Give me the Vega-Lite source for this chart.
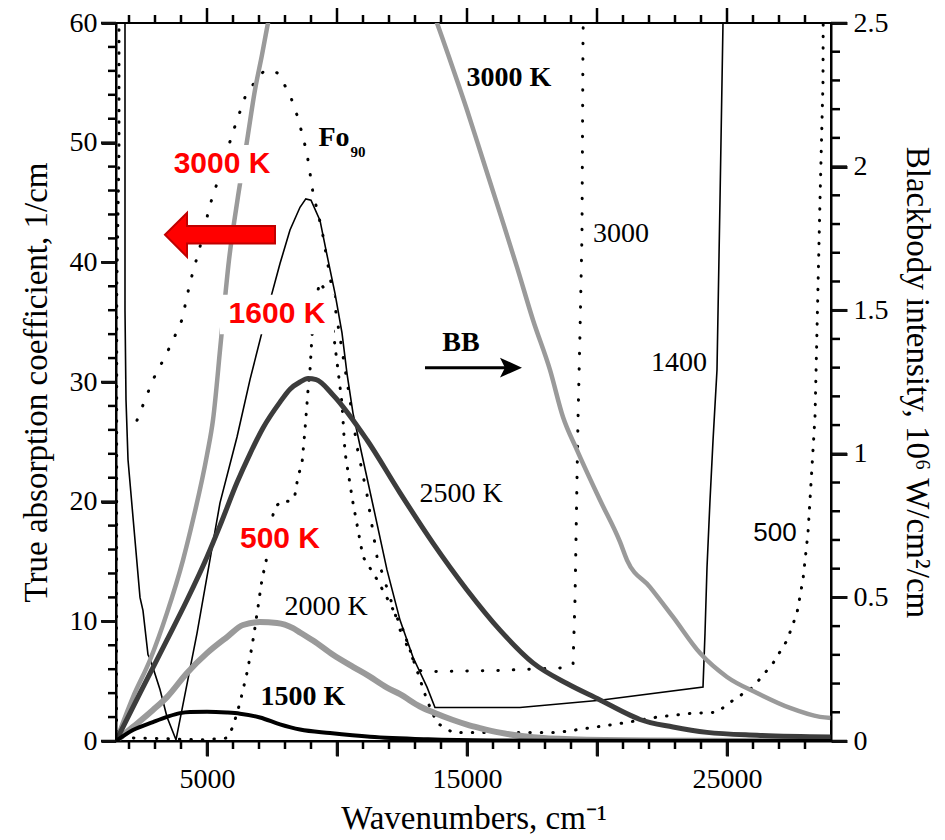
{
 "$schema": "https://vega.github.io/schema/vega-lite/v6.json",
 "width": 715, "height": 718,
 "autosize": {"type": "none"},
 "padding": {"left": 116, "top": 23, "right": 114, "bottom": 99},
 "background": "white",
 "config": {
  "view": {"stroke": "black", "strokeWidth": 2},
  "axis": {"ticks": true, "zindex": 1, "domainColor": "black", "domainWidth": 2, "tickColor": "#111111", "tickWidth": 3, "tickOpacity": 1, "labelFont": "Liberation Serif", "labelFontSize": 28, "labelColor": "black", "titleFont": "Liberation Serif", "titleFontSize": 33, "titleFontWeight": "normal", "titleColor": "black", "grid": false, "labelOverlap": false, "labelFlush": false}
 },
 "datasets": {
  "a1400": [{"i":0,"wn":1846,"k":70},{"i":1,"wn":1846,"k":36},{"i":2,"wn":1885,"k":28.5},{"i":3,"wn":1962,"k":23.5},{"i":4,"wn":2154,"k":18.7},{"i":5,"wn":2423,"k":12.0},{"i":6,"wn":2538,"k":10.9},{"i":7,"wn":2731,"k":7.2},{"i":8,"wn":2808,"k":6.9},{"i":9,"wn":3192,"k":4.3},{"i":10,"wn":3462,"k":2.0},{"i":11,"wn":3808,"k":0.1},{"i":12,"wn":4615,"k":9.0},{"i":13,"wn":5500,"k":19.9},{"i":14,"wn":6154,"k":25.4},{"i":15,"wn":6654,"k":30.2},{"i":16,"wn":7423,"k":36.8},{"i":17,"wn":7808,"k":39.9},{"i":18,"wn":8192,"k":42.7},{"i":19,"wn":8577,"k":44.6},{"i":20,"wn":8800,"k":45.3},{"i":21,"wn":9000,"k":45.2},{"i":22,"wn":9346,"k":43.5},{"i":23,"wn":9654,"k":40.2},{"i":24,"wn":9923,"k":37.4},{"i":25,"wn":10192,"k":34.1},{"i":26,"wn":10385,"k":30.7},{"i":27,"wn":10615,"k":27.4},{"i":28,"wn":10962,"k":23.9},{"i":29,"wn":11385,"k":19.7},{"i":30,"wn":11923,"k":14.3},{"i":31,"wn":12423,"k":10.1},{"i":32,"wn":12923,"k":7.0},{"i":33,"wn":13462,"k":4.5},{"i":34,"wn":13769,"k":2.8},{"i":35,"wn":17038,"k":2.8},{"i":36,"wn":20115,"k":3.4},{"i":37,"wn":24077,"k":4.5},{"i":38,"wn":24154,"k":9.0},{"i":39,"wn":24231,"k":14.5},{"i":40,"wn":24346,"k":20.1},{"i":41,"wn":24462,"k":25.1},{"i":42,"wn":24615,"k":31.0},{"i":43,"wn":24731,"k":45.2},{"i":44,"wn":24846,"k":60},{"i":45,"wn":24885,"k":65}],
  "a3000": [{"i":0,"wn":2308,"k":26.8},{"i":1,"wn":2923,"k":30.2},{"i":2,"wn":3308,"k":31.8},{"i":3,"wn":3654,"k":33.3},{"i":4,"wn":4038,"k":35.2},{"i":5,"wn":4346,"k":38.3},{"i":6,"wn":4731,"k":41.3},{"i":7,"wn":5115,"k":44.8},{"i":8,"wn":5385,"k":46.6},{"i":9,"wn":6000,"k":50.9},{"i":10,"wn":6462,"k":53.8},{"i":11,"wn":6846,"k":55.1},{"i":12,"wn":7154,"k":55.9},{"i":13,"wn":7423,"k":56.1},{"i":14,"wn":7731,"k":55.8},{"i":15,"wn":8192,"k":54.0},{"i":16,"wn":8462,"k":52.3},{"i":17,"wn":8654,"k":50.8},{"i":18,"wn":8846,"k":49.1},{"i":19,"wn":9077,"k":45.8},{"i":20,"wn":9423,"k":42.7},{"i":21,"wn":9731,"k":38.8},{"i":22,"wn":9923,"k":36.3},{"i":23,"wn":10192,"k":32.7},{"i":24,"wn":10500,"k":28.5},{"i":25,"wn":10769,"k":24.6},{"i":26,"wn":11154,"k":20.6},{"i":27,"wn":11538,"k":15.4},{"i":28,"wn":12038,"k":12.0},{"i":29,"wn":12423,"k":9.3},{"i":30,"wn":12808,"k":7.4},{"i":31,"wn":13115,"k":5.9},{"i":32,"wn":13692,"k":5.8},{"i":33,"wn":16269,"k":5.9},{"i":34,"wn":18577,"k":6.1},{"i":35,"wn":19077,"k":6.3},{"i":36,"wn":19154,"k":11.8},{"i":37,"wn":19269,"k":26.8},{"i":38,"wn":19346,"k":34.1},{"i":39,"wn":19423,"k":42.4},{"i":40,"wn":19462,"k":58.6},{"i":41,"wn":19500,"k":65}],
  "a500": [{"i":0,"wn":1615,"k":70},{"i":1,"wn":1615,"k":49.2},{"i":2,"wn":1530,"k":37.7},{"i":3,"wn":1520,"k":0.3},{"i":4,"wn":4846,"k":0.1},{"i":5,"wn":5769,"k":0.25},{"i":6,"wn":6000,"k":1.2},{"i":7,"wn":6269,"k":3.2},{"i":8,"wn":6538,"k":5.7},{"i":9,"wn":6731,"k":7.9},{"i":10,"wn":6846,"k":9.5},{"i":11,"wn":6962,"k":11.2},{"i":12,"wn":7115,"k":13.5},{"i":13,"wn":7308,"k":15.4},{"i":14,"wn":7538,"k":18.9},{"i":15,"wn":7692,"k":19.7},{"i":16,"wn":7923,"k":20.1},{"i":17,"wn":8192,"k":20.0},{"i":18,"wn":8385,"k":20.6},{"i":19,"wn":8500,"k":22.1},{"i":20,"wn":8654,"k":23.2},{"i":21,"wn":8769,"k":26.0},{"i":22,"wn":8885,"k":29.3},{"i":23,"wn":8962,"k":31.0},{"i":24,"wn":9038,"k":33.8},{"i":25,"wn":9154,"k":36.8},{"i":26,"wn":9346,"k":38.3},{"i":27,"wn":9538,"k":37.7},{"i":28,"wn":9731,"k":36.4},{"i":29,"wn":10038,"k":31.0},{"i":30,"wn":10192,"k":28.2},{"i":31,"wn":10308,"k":24.1},{"i":32,"wn":10615,"k":19.9},{"i":33,"wn":11000,"k":15.4},{"i":34,"wn":11538,"k":13.5},{"i":35,"wn":12038,"k":11.5},{"i":36,"wn":12538,"k":9.3},{"i":37,"wn":13077,"k":5.9},{"i":38,"wn":13462,"k":3.4},{"i":39,"wn":13846,"k":1.5},{"i":40,"wn":14462,"k":0.7},{"i":41,"wn":18462,"k":0.7},{"i":42,"wn":19731,"k":1.1},{"i":43,"wn":21000,"k":1.5},{"i":44,"wn":22308,"k":2.0},{"i":45,"wn":23577,"k":2.3},{"i":46,"wn":24615,"k":2.4},{"i":47,"wn":25231,"k":3.4},{"i":48,"wn":26000,"k":4.5},{"i":49,"wn":26769,"k":6.5},{"i":50,"wn":27308,"k":8.4},{"i":51,"wn":27692,"k":10.7},{"i":52,"wn":27923,"k":13.5},{"i":53,"wn":28115,"k":17.4},{"i":54,"wn":28269,"k":22.9},{"i":55,"wn":28385,"k":27.1},{"i":56,"wn":28577,"k":45.2},{"i":57,"wn":28692,"k":55.0},{"i":58,"wn":28700,"k":60},{"i":59,"wn":28730,"k":65}],
  "bb": [
   {"T":"1500","i":0,"wn":1500,"r":0},{"T":"1500","i":1,"wn":2154,"r":0.038},{"T":"1500","i":2,"wn":2923,"r":0.066},{"T":"1500","i":3,"wn":3462,"r":0.084},{"T":"1500","i":4,"wn":3962,"r":0.097},{"T":"1500","i":5,"wn":4346,"r":0.101},{"T":"1500","i":6,"wn":5000,"r":0.102},{"T":"1500","i":7,"wn":5769,"r":0.099},{"T":"1500","i":8,"wn":6269,"r":0.095},{"T":"1500","i":9,"wn":7038,"r":0.082},{"T":"1500","i":10,"wn":7808,"r":0.058},{"T":"1500","i":11,"wn":8577,"r":0.040},{"T":"1500","i":12,"wn":9731,"r":0.028},{"T":"1500","i":13,"wn":11269,"r":0.015},{"T":"1500","i":14,"wn":13500,"r":0.006},{"T":"1500","i":15,"wn":16000,"r":0.002},{"T":"1500","i":16,"wn":20000,"r":0.0005},{"T":"1500","i":17,"wn":29000,"r":0},
   {"T":"2000","i":0,"wn":1500,"r":0},{"T":"2000","i":1,"wn":2154,"r":0.049},{"T":"2000","i":2,"wn":2923,"r":0.108},{"T":"2000","i":3,"wn":3462,"r":0.153},{"T":"2000","i":4,"wn":4231,"r":0.237},{"T":"2000","i":5,"wn":5000,"r":0.306},{"T":"2000","i":6,"wn":5769,"r":0.362},{"T":"2000","i":7,"wn":6385,"r":0.404},{"T":"2000","i":8,"wn":7038,"r":0.414},{"T":"2000","i":9,"wn":7692,"r":0.411},{"T":"2000","i":10,"wn":8308,"r":0.393},{"T":"2000","i":11,"wn":8577,"r":0.378},{"T":"2000","i":12,"wn":9077,"r":0.350},{"T":"2000","i":13,"wn":9846,"r":0.300},{"T":"2000","i":14,"wn":10615,"r":0.258},{"T":"2000","i":15,"wn":11154,"r":0.230},{"T":"2000","i":16,"wn":11923,"r":0.186},{"T":"2000","i":17,"wn":12423,"r":0.163},{"T":"2000","i":18,"wn":13192,"r":0.120},{"T":"2000","i":19,"wn":13692,"r":0.100},{"T":"2000","i":20,"wn":14462,"r":0.073},{"T":"2000","i":21,"wn":15000,"r":0.057},{"T":"2000","i":22,"wn":15500,"r":0.045},{"T":"2000","i":23,"wn":16269,"r":0.029},{"T":"2000","i":24,"wn":17538,"r":0.013},{"T":"2000","i":25,"wn":19000,"r":0.006},{"T":"2000","i":26,"wn":22000,"r":0.002},{"T":"2000","i":27,"wn":29000,"r":0},
   {"T":"2500","i":0,"wn":1500,"r":0},{"T":"2500","i":1,"wn":2423,"r":0.167},{"T":"2500","i":2,"wn":3462,"r":0.352},{"T":"2500","i":3,"wn":4231,"r":0.491},{"T":"2500","i":4,"wn":5000,"r":0.641},{"T":"2500","i":5,"wn":5500,"r":0.75},{"T":"2500","i":6,"wn":6154,"r":0.90},{"T":"2500","i":7,"wn":6654,"r":1.0},{"T":"2500","i":8,"wn":7154,"r":1.09},{"T":"2500","i":9,"wn":7808,"r":1.18},{"T":"2500","i":10,"wn":8192,"r":1.225},{"T":"2500","i":11,"wn":8577,"r":1.250},{"T":"2500","i":12,"wn":8885,"r":1.262},{"T":"2500","i":13,"wn":9200,"r":1.258},{"T":"2500","i":14,"wn":9846,"r":1.205},{"T":"2500","i":15,"wn":11154,"r":1.048},{"T":"2500","i":16,"wn":12423,"r":0.864},{"T":"2500","i":17,"wn":13692,"r":0.689},{"T":"2500","i":18,"wn":15000,"r":0.526},{"T":"2500","i":19,"wn":16269,"r":0.386},{"T":"2500","i":20,"wn":17538,"r":0.272},{"T":"2500","i":21,"wn":18846,"r":0.200},{"T":"2500","i":22,"wn":20115,"r":0.143},{"T":"2500","i":23,"wn":21269,"r":0.090},{"T":"2500","i":24,"wn":21654,"r":0.075},{"T":"2500","i":25,"wn":22923,"r":0.049},{"T":"2500","i":26,"wn":24231,"r":0.030},{"T":"2500","i":27,"wn":26154,"r":0.020},{"T":"2500","i":28,"wn":29000,"r":0.014},
   {"T":"3000","i":0,"wn":1500,"r":0},{"T":"3000","i":1,"wn":2154,"r":0.153},{"T":"3000","i":2,"wn":2808,"r":0.282},{"T":"3000","i":3,"wn":3462,"r":0.446},{"T":"3000","i":4,"wn":4077,"r":0.630},{"T":"3000","i":5,"wn":4462,"r":0.770},{"T":"3000","i":6,"wn":5000,"r":0.996},{"T":"3000","i":7,"wn":5231,"r":1.118},{"T":"3000","i":8,"wn":5538,"r":1.396},{"T":"3000","i":9,"wn":5846,"r":1.675},{"T":"3000","i":10,"wn":6154,"r":1.873},{"T":"3000","i":11,"wn":6538,"r":2.089},{"T":"3000","i":12,"wn":6846,"r":2.267},{"T":"3000","i":13,"wn":7115,"r":2.389},{"T":"3000","i":14,"wn":7346,"r":2.5},{"T":"3000","i":15,"wn":7800,"r":2.68},{"T":"3000","i":16,"wn":9000,"r":2.9},{"T":"3000","i":17,"wn":10500,"r":2.95},{"T":"3000","i":18,"wn":12000,"r":2.85},{"T":"3000","i":19,"wn":13000,"r":2.7},{"T":"3000","i":20,"wn":13846,"r":2.5},{"T":"3000","i":21,"wn":14346,"r":2.371},{"T":"3000","i":22,"wn":15000,"r":2.197},{"T":"3000","i":23,"wn":15615,"r":2.023},{"T":"3000","i":24,"wn":16269,"r":1.838},{"T":"3000","i":25,"wn":16923,"r":1.650},{"T":"3000","i":26,"wn":17538,"r":1.466},{"T":"3000","i":27,"wn":18192,"r":1.292},{"T":"3000","i":28,"wn":18692,"r":1.128},{"T":"3000","i":29,"wn":19231,"r":1.013},{"T":"3000","i":30,"wn":20115,"r":0.839},{"T":"3000","i":31,"wn":20885,"r":0.693},{"T":"3000","i":32,"wn":21154,"r":0.630},{"T":"3000","i":33,"wn":22038,"r":0.536},{"T":"3000","i":34,"wn":22923,"r":0.432},{"T":"3000","i":35,"wn":23962,"r":0.306},{"T":"3000","i":36,"wn":25000,"r":0.223},{"T":"3000","i":37,"wn":26154,"r":0.167},{"T":"3000","i":38,"wn":27423,"r":0.115},{"T":"3000","i":39,"wn":28577,"r":0.084},{"T":"3000","i":40,"wn":29000,"r":0.080}
  ],
  "lbl": [
   {"t":"3000","wn":20923,"k":42.4,"g":"serif"},{"t":"1400","wn":23154,"k":31.6,"g":"serif"},{"t":"2500 K","wn":14769,"k":20.6,"g":"serif"},{"t":"2000 K","wn":9577,"k":11.2,"g":"serif"},
   {"t":"3000 K","wn":16615,"k":55.4,"g":"serifb"},{"t":"1500 K","wn":8692,"k":3.7,"g":"serifb"},{"t":"BB","wn":14769,"k":33.3,"g":"serifb"},{"t":"Fo","wn":9885,"k":50.4,"g":"serifb"},
   {"t":"90","wn":10808,"k":49.2,"g":"sub"},
   {"t":"500","wn":26846,"k":17.4,"g":"sans"},
   {"t":"3000 K","wn":5577,"k":48.2,"g":"red"},{"t":"1600 K","wn":7692,"k":35.7,"g":"red"},{"t":"500 K","wn":7808,"k":16.9,"g":"red"}
  ],
  "boxes": [{"x1":3500,"x2":7731,"k1":46.6,"k2":49.8},{"x1":5500,"x2":9885,"k1":34.0,"k2":37.3},{"x1":6038,"x2":9577,"k1":15.3,"k2":18.5}],
  "redarrow": [{"wn":5500,"k":42.3}],
  "bbline": [{"wn":13385,"wn2":16462,"k":31.2}],
  "bbhead": [{"wn":16692,"k":31.2}],
  "xmaj": [{"v":5000},{"v":10000},{"v":15000},{"v":20000},{"v":25000}],
  "xmin": [{"v":2000},{"v":3000},{"v":4000},{"v":6000},{"v":7000},{"v":8000},{"v":9000},{"v":11000},{"v":12000},{"v":13000},{"v":14000},{"v":16000},{"v":17000},{"v":18000},{"v":19000},{"v":21000},{"v":22000},{"v":23000},{"v":24000},{"v":26000},{"v":27000},{"v":28000}],
  "ymaj": [{"v":0},{"v":10},{"v":20},{"v":30},{"v":40},{"v":50},{"v":60}],
  "ymin": [{"v":2},{"v":4},{"v":6},{"v":8},{"v":12},{"v":14},{"v":16},{"v":18},{"v":22},{"v":24},{"v":26},{"v":28},{"v":32},{"v":34},{"v":36},{"v":38},{"v":42},{"v":44},{"v":46},{"v":48},{"v":52},{"v":54},{"v":56},{"v":58}],
  "rmaj": [{"v":0},{"v":0.5},{"v":1},{"v":1.5},{"v":2},{"v":2.5}],
  "rmin": [{"v":0.1},{"v":0.2},{"v":0.3},{"v":0.4},{"v":0.6},{"v":0.7},{"v":0.8},{"v":0.9},{"v":1.1},{"v":1.2},{"v":1.3},{"v":1.4},{"v":1.6},{"v":1.7},{"v":1.8},{"v":1.9},{"v":2.1},{"v":2.2},{"v":2.3},{"v":2.4}]
 },
 "layer": [
   {"data": {"name": "a1400"}, "mark": {"type": "line", "color": "black", "strokeWidth": 1.6, "clip": true},
    "encoding": {
     "x": {"field": "wn", "type": "quantitative", "scale": {"domain": [1500, 29000], "nice": false, "zero": false},
      "axis": {"orient": "bottom", "values": [5000,10000,15000,20000,25000], "format": "d", "zindex": 1,
       "labelExpr": "(datum.value == 5000 || datum.value == 15000 || datum.value == 25000) ? datum.label : ''",
       "ticks": true, "tickColor": "#111111", "tickWidth": 3, "tickOpacity": 1,
       "tickSize": 15, "labelPadding": 9, "title": "Wavenumbers, cm⁻¹", "titlePadding": 9}},
     "y": {"field": "k", "type": "quantitative", "scale": {"domain": [0, 60], "nice": false},
      "axis": {"orient": "left", "values": [0,10,20,30,40,50,60], "format": "d", "zindex": 1,
       "ticks": true, "tickColor": "#111111", "tickWidth": 3, "tickOpacity": 1,
       "tickSize": 15, "labelPadding": 4, "title": "True absorption coefficient, 1/cm", "titlePadding": 16}},
     "order": {"field": "i"}}},
   {"data": {"name": "a3000"}, "mark": {"type": "line", "color": "black", "strokeWidth": 3, "strokeDash": [0.5, 15], "strokeCap": "round", "clip": true},
    "encoding": {"x": {"field": "wn", "type": "quantitative", "axis": null}, "y": {"field": "k", "type": "quantitative", "scale": {"domain": [0, 60], "nice": false}, "axis": null}, "order": {"field": "i"}}},
   {"data": {"name": "a500"}, "mark": {"type": "line", "color": "black", "strokeWidth": 3, "strokeDash": [0.5, 11], "strokeCap": "round", "clip": true},
    "encoding": {"x": {"field": "wn", "type": "quantitative", "axis": null}, "y": {"field": "k", "type": "quantitative", "scale": {"domain": [0, 60], "nice": false}, "axis": null}, "order": {"field": "i"}}},
   {"data": {"name": "bb"}, "transform": [{"filter": "datum.T == '2000'"}], "mark": {"type": "line", "color": "#9a9a9a", "strokeWidth": 6, "clip": true, "interpolate": "monotone"},
    "encoding": {
     "x": {"field": "wn", "type": "quantitative", "axis": null},
     "y": {"field": "r", "type": "quantitative", "scale": {"domain": [0, 2.5], "nice": false},
      "axis": {"orient": "right", "values": [0,0.5,1,1.5,2,2.5], "format": "~g", "zindex": 1,
       "ticks": true, "tickColor": "#111111", "tickWidth": 3, "tickOpacity": 1,
       "tickSize": 16, "labelPadding": 6, "title": "Blackbody intensity, 10⁶ W/cm²/cm", "titlePadding": 11}},
     "order": {"field": "i"}}},
   {"data": {"name": "bb"}, "transform": [{"filter": "datum.T == '3000'"}], "mark": {"type": "line", "color": "#9a9a9a", "strokeWidth": 4.5, "clip": true, "interpolate": "monotone"},
    "encoding": {"x": {"field": "wn", "type": "quantitative", "axis": null}, "y": {"field": "r", "type": "quantitative", "scale": {"domain": [0, 2.5], "nice": false}, "axis": null}, "order": {"field": "i"}}},
   {"data": {"name": "bb"}, "transform": [{"filter": "datum.T == '2500'"}], "mark": {"type": "line", "color": "#3c3c3c", "strokeWidth": 5, "clip": true, "interpolate": "monotone"},
    "encoding": {"x": {"field": "wn", "type": "quantitative", "axis": null}, "y": {"field": "r", "type": "quantitative", "scale": {"domain": [0, 2.5], "nice": false}, "axis": null}, "order": {"field": "i"}}},
   {"data": {"name": "bb"}, "transform": [{"filter": "datum.T == '1500'"}], "mark": {"type": "line", "color": "black", "strokeWidth": 4, "clip": true, "interpolate": "monotone"},
    "encoding": {"x": {"field": "wn", "type": "quantitative", "axis": null}, "y": {"field": "r", "type": "quantitative", "scale": {"domain": [0, 2.5], "nice": false}, "axis": null}, "order": {"field": "i"}}},
   {"data": {"name": "ymaj"}, "mark": {"type": "rule", "color": "black", "strokeWidth": 2.5, "xOffset": -15},
    "encoding": {"x": {"datum": 1500, "type": "quantitative", "axis": null}, "x2": {"datum": 1500}, "y": {"field": "v", "type": "quantitative", "scale": {"domain": [0, 60], "nice": false}, "axis": null}}},
   {"data": {"name": "ymin"}, "mark": {"type": "rule", "color": "black", "strokeWidth": 2.5, "xOffset": -8},
    "encoding": {"x": {"datum": 1500, "type": "quantitative", "axis": null}, "x2": {"datum": 1500}, "y": {"field": "v", "type": "quantitative", "scale": {"domain": [0, 60], "nice": false}, "axis": null}}},
   {"data": {"name": "rmaj"}, "mark": {"type": "rule", "color": "black", "strokeWidth": 2.5, "xOffset": 16},
    "encoding": {"x": {"datum": 29000, "type": "quantitative", "axis": null}, "x2": {"datum": 29000}, "y": {"field": "v", "type": "quantitative", "scale": {"domain": [0, 2.5], "nice": false}, "axis": null}}},
   {"data": {"name": "rmin"}, "mark": {"type": "rule", "color": "black", "strokeWidth": 2.5, "xOffset": 9},
    "encoding": {"x": {"datum": 29000, "type": "quantitative", "axis": null}, "x2": {"datum": 29000}, "y": {"field": "v", "type": "quantitative", "scale": {"domain": [0, 2.5], "nice": false}, "axis": null}}},
   {"data": {"name": "xmaj"}, "mark": {"type": "rule", "color": "black", "strokeWidth": 2.5, "yOffset": 15},
    "encoding": {"x": {"field": "v", "type": "quantitative", "axis": null}, "y": {"datum": 0, "type": "quantitative", "scale": {"domain": [0, 60], "nice": false}, "axis": null}, "y2": {"datum": 0}}},
   {"data": {"name": "xmin"}, "mark": {"type": "rule", "color": "black", "strokeWidth": 2.5, "yOffset": 8},
    "encoding": {"x": {"field": "v", "type": "quantitative", "axis": null}, "y": {"datum": 0, "type": "quantitative", "scale": {"domain": [0, 60], "nice": false}, "axis": null}, "y2": {"datum": 0}}},
   {"data": {"name": "xmaj"}, "mark": {"type": "rule", "color": "black", "strokeWidth": 2.5, "yOffset": -15},
    "encoding": {"x": {"field": "v", "type": "quantitative", "axis": null}, "y": {"datum": 60, "type": "quantitative", "scale": {"domain": [0, 60], "nice": false}, "axis": null}, "y2": {"datum": 60}}},
   {"data": {"name": "xmin"}, "mark": {"type": "rule", "color": "black", "strokeWidth": 2.5, "yOffset": -8},
    "encoding": {"x": {"field": "v", "type": "quantitative", "axis": null}, "y": {"datum": 60, "type": "quantitative", "scale": {"domain": [0, 60], "nice": false}, "axis": null}, "y2": {"datum": 60}}},
   {"data": {"name": "boxes"}, "mark": {"type": "rect", "color": "white", "opacity": 1},
    "encoding": {"x": {"field": "x1", "type": "quantitative", "axis": null}, "x2": {"field": "x2"}, "y": {"field": "k1", "type": "quantitative", "scale": {"domain": [0, 60], "nice": false}, "axis": null}, "y2": {"field": "k2"}}},
   {"data": {"name": "lbl"}, "transform": [{"filter": "datum.g == 'serif'"}], "mark": {"type": "text", "font": "Liberation Serif", "fontSize": 28, "color": "black", "align": "center", "baseline": "middle"},
    "encoding": {"x": {"field": "wn", "type": "quantitative", "axis": null}, "y": {"field": "k", "type": "quantitative", "scale": {"domain": [0, 60], "nice": false}, "axis": null}, "text": {"field": "t"}}},
   {"data": {"name": "lbl"}, "transform": [{"filter": "datum.g == 'serifb'"}], "mark": {"type": "text", "font": "Liberation Serif", "fontSize": 28, "fontWeight": "bold", "color": "black", "align": "center", "baseline": "middle"},
    "encoding": {"x": {"field": "wn", "type": "quantitative", "axis": null}, "y": {"field": "k", "type": "quantitative", "scale": {"domain": [0, 60], "nice": false}, "axis": null}, "text": {"field": "t"}}},
   {"data": {"name": "lbl"}, "transform": [{"filter": "datum.g == 'sub'"}], "mark": {"type": "text", "font": "Liberation Serif", "fontSize": 15, "fontWeight": "bold", "color": "black", "align": "center", "baseline": "middle"},
    "encoding": {"x": {"field": "wn", "type": "quantitative", "axis": null}, "y": {"field": "k", "type": "quantitative", "scale": {"domain": [0, 60], "nice": false}, "axis": null}, "text": {"field": "t"}}},
   {"data": {"name": "lbl"}, "transform": [{"filter": "datum.g == 'sans'"}], "mark": {"type": "text", "font": "Liberation Sans", "fontSize": 26, "color": "black", "align": "center", "baseline": "middle"},
    "encoding": {"x": {"field": "wn", "type": "quantitative", "axis": null}, "y": {"field": "k", "type": "quantitative", "scale": {"domain": [0, 60], "nice": false}, "axis": null}, "text": {"field": "t"}}},
   {"data": {"name": "lbl"}, "transform": [{"filter": "datum.g == 'red'"}], "mark": {"type": "text", "font": "Liberation Sans", "fontSize": 30, "fontWeight": "bold", "color": "#ff0000", "align": "center", "baseline": "middle"},
    "encoding": {"x": {"field": "wn", "type": "quantitative", "axis": null}, "y": {"field": "k", "type": "quantitative", "scale": {"domain": [0, 60], "nice": false}, "axis": null}, "text": {"field": "t"}}},
   {"data": {"name": "redarrow"}, "mark": {"type": "point", "shape": "M-5,0L-3,-2L-3,-0.8L5,-0.8L5,0.8L-3,0.8L-3,2Z", "size": 484, "filled": true, "fill": "#ff0000", "stroke": "#c00000", "strokeWidth": 2, "opacity": 1, "strokeOpacity": 1},
    "encoding": {"x": {"field": "wn", "type": "quantitative", "axis": null}, "y": {"field": "k", "type": "quantitative", "scale": {"domain": [0, 60], "nice": false}, "axis": null}}},
   {"data": {"name": "bbline"}, "mark": {"type": "rule", "color": "black", "strokeWidth": 3},
    "encoding": {"x": {"field": "wn", "type": "quantitative", "axis": null}, "x2": {"field": "wn2"}, "y": {"field": "k", "type": "quantitative", "scale": {"domain": [0, 60], "nice": false}, "axis": null}}},
   {"data": {"name": "bbhead"}, "mark": {"type": "point", "shape": "M1,0L-1,-0.9L-0.55,0L-1,0.9Z", "size": 484, "filled": true, "color": "black", "opacity": 1},
    "encoding": {"x": {"field": "wn", "type": "quantitative", "axis": null}, "y": {"field": "k", "type": "quantitative", "scale": {"domain": [0, 60], "nice": false}, "axis": null}}}
 ],
 "resolve": {"scale": {"y": "independent"}, "axis": {"x": "independent", "y": "independent"}}
}
